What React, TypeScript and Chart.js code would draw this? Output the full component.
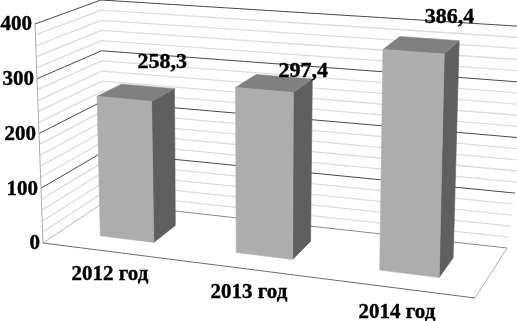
import React, { useEffect, useRef } from "react";
import { Chart, registerables } from "chart.js";

Chart.register(...registerables);

const categories = ["2012 год", "2013 год", "2014 год"];
const values = [258.3, 297.4, 386.4];
const valueLabels = ["258,3", "297,4", "386,4"];
const yMin = 0;
const yMax = 400;
const yStep = 20;
const yLabelStep = 100;

// 3D box of the plot: [front/back][bottom/top][left/right] corners in pixels
const F0L = [43, 243], F0R = [475, 298], B0L = [103, 203], B0R = [507, 248];
const F4L = [35, 24], F4R = [481, 60], B4L = [101, 0], B4R = [515, 26];

const barDepthFront = 0.3;
const barDepthBack = 0.7;
const valueLabelOffsets = [[38, -37], [39, -19], [36, -34]];
const categoryLabelPos = [[110, 275], [249, 293], [397, 313]];

const lerp = (a: number, b: number, t: number) => a + (b - a) * t;
const warp = (t: number) => t + 0.08 * t * (t - 1);

function proj(u: number, v: number, w: number): [number, number] {
  const out: number[] = [0, 0];
  for (let i = 0; i < 2; i++) {
    const front0 = lerp(F0L[i], F0R[i], u);
    const back0 = lerp(B0L[i], B0R[i], u);
    const front4 = lerp(F4L[i], F4R[i], u);
    const back4 = lerp(B4L[i], B4R[i], u);
    out[i] = lerp(lerp(front0, back0, v), lerp(front4, back4, v), w);
  }
  return [out[0], out[1]];
}

function poly(ctx: CanvasRenderingContext2D, pts: [number, number][], fill: string) {
  ctx.beginPath();
  pts.forEach((p, i) => (i ? ctx.lineTo(p[0], p[1]) : ctx.moveTo(p[0], p[1])));
  ctx.closePath();
  ctx.fillStyle = fill;
  ctx.fill();
  ctx.strokeStyle = fill;
  ctx.lineWidth = 0.6;
  ctx.stroke();
}

function seg(ctx: CanvasRenderingContext2D, a: [number, number], b: [number, number], color: string, width: number) {
  ctx.beginPath();
  ctx.moveTo(a[0], a[1]);
  ctx.lineTo(b[0], b[1]);
  ctx.strokeStyle = color;
  ctx.lineWidth = width;
  ctx.stroke();
}

function boldText(ctx: CanvasRenderingContext2D, s: string, x: number, y: number) {
  ctx.fillText(s, x, y);
  ctx.strokeStyle = "#000";
  ctx.lineWidth = 0.4;
  ctx.strokeText(s, x, y);
}

const box3d = {
  id: "box3d",
  beforeDatasetsDraw(chart: any) {
    const { ctx } = chart;
    const yScale = chart.scales.y;
    const area = chart.chartArea;
    const norm = (v: number) => (v - yMin) / (yMax - yMin);
    ctx.save();

    // wall gridlines (minor first, major on top)
    const ticks = yScale.ticks.map((t: any) => t.value).sort((a: number, b: number) => a - b);
    const drawLine = (val: number, color: string, width: number) => {
      const w = norm(val);
      const corner = proj(0, 1, w);
      seg(ctx, proj(0, 0, w), corner, color, width);
      seg(ctx, corner, proj(1 + 0.06 * w, 1, w), color, width);
    };
    ticks.filter((t: number) => t % yLabelStep !== 0).forEach((t: number) => drawLine(t, "#dcdcdc", 1.3));
    ticks.filter((t: number) => t % yLabelStep === 0 && t !== yMin).forEach((t: number) => drawLine(t, "#4a4a4a", 1));

    // floor and outer edges
    seg(ctx, proj(0, 0, 0), proj(0, 0, 1), "#aaaaaa", 1);
    seg(ctx, proj(0, 0, 0), proj(0, 1, 0), "#b5b5b5", 1);
    seg(ctx, proj(0, 1, 0), proj(1, 1, 0), "#8a8a8a", 1);
    seg(ctx, proj(1, 1, 0), proj(1, 0, 0), "#b0b0b0", 1);
    seg(ctx, proj(0, 0, 0), proj(1, 0, 0), "#6a6a6a", 1);

    // bars, taken from the library's bar elements
    const meta = chart.getDatasetMeta(0);
    const toU = (px: number) => warp((px - area.left) / area.width);
    meta.data.forEach((el: any) => {
      const p = el.getProps(["x", "y", "base", "width"], true);
      const u0 = toU(p.x - p.width / 2);
      const u1 = toU(p.x + p.width / 2);
      const top = norm(yScale.getValueForPixel(p.y));
      const base = norm(yScale.getValueForPixel(p.base));
      const vf = barDepthFront;
      const vb = barDepthBack;
      poly(ctx, [proj(u1, vf, base), proj(u1, vb, base), proj(u1, vb, top), proj(u1, vf, top)], "#5f5f5f");
      poly(ctx, [proj(u0, vf, top), proj(u1, vf, top), proj(u1, vb, top), proj(u0, vb, top)], "#808080");
      poly(ctx, [proj(u0, vf, base), proj(u1, vf, base), proj(u1, vf, top), proj(u0, vf, top)], "#adadad");
    });
    ctx.restore();
  },
  afterDatasetsDraw(chart: any) {
    const { ctx } = chart;
    const yScale = chart.scales.y;
    const norm = (v: number) => (v - yMin) / (yMax - yMin);
    const meta = chart.getDatasetMeta(0);
    const area = chart.chartArea;
    const toU = (px: number) => warp((px - area.left) / area.width);
    ctx.save();
    ctx.fillStyle = "#000";
    ctx.textBaseline = "middle";

    // value axis labels
    ctx.textAlign = "right";
    ctx.font = "bold 21px 'Liberation Serif'";
    yScale.ticks.forEach((t: any) => {
      if (t.value % yLabelStep !== 0) return;
      const p = proj(0, 0, norm(t.value));
      boldText(ctx, String(t.value), p[0] - 3, p[1] + 1);
    });

    // value labels
    ctx.textAlign = "center";
    ctx.font = "bold 22px 'Liberation Serif'";
    meta.data.forEach((el: any, i: number) => {
      const p = el.getProps(["x", "y", "width"], true);
      const u = toU(p.x);
      const q = proj(u, barDepthFront, norm(yScale.getValueForPixel(p.y)));
      boldText(ctx, valueLabels[i], q[0] + valueLabelOffsets[i][0], q[1] + valueLabelOffsets[i][1]);
    });

    // category labels
    ctx.font = "bold 21px 'Liberation Serif'";
    categories.forEach((c, i) => {
      boldText(ctx, c, categoryLabelPos[i][0], categoryLabelPos[i][1]);
    });
    ctx.restore();
  },
};

export default function App() {
  const ref = useRef<HTMLCanvasElement>(null);
  useEffect(() => {
    const chart = new Chart(ref.current as HTMLCanvasElement, {
      type: "bar",
      data: {
        labels: categories,
        datasets: [
          {
            data: values,
            backgroundColor: "rgba(0,0,0,0)",
            borderWidth: 0,
            categoryPercentage: 1,
            barPercentage: 0.4,
          },
        ],
      },
      options: {
        responsive: false,
        animation: false,
        layout: { padding: 0 },
        plugins: { legend: { display: false }, tooltip: { enabled: false } },
        scales: {
          x: { display: false },
          y: { display: false, min: yMin, max: yMax, ticks: { stepSize: yStep, autoSkip: false } },
        },
      },
      plugins: [box3d],
    } as any);
    return () => chart.destroy();
  }, []);
  return (
    <div style={{ position: "absolute", left: 0, top: 0, width: 517, height: 321, background: "#fff", overflow: "hidden" }}>
      <canvas ref={ref} width={517} height={321} style={{ display: "block" }} />
    </div>
  );
}
